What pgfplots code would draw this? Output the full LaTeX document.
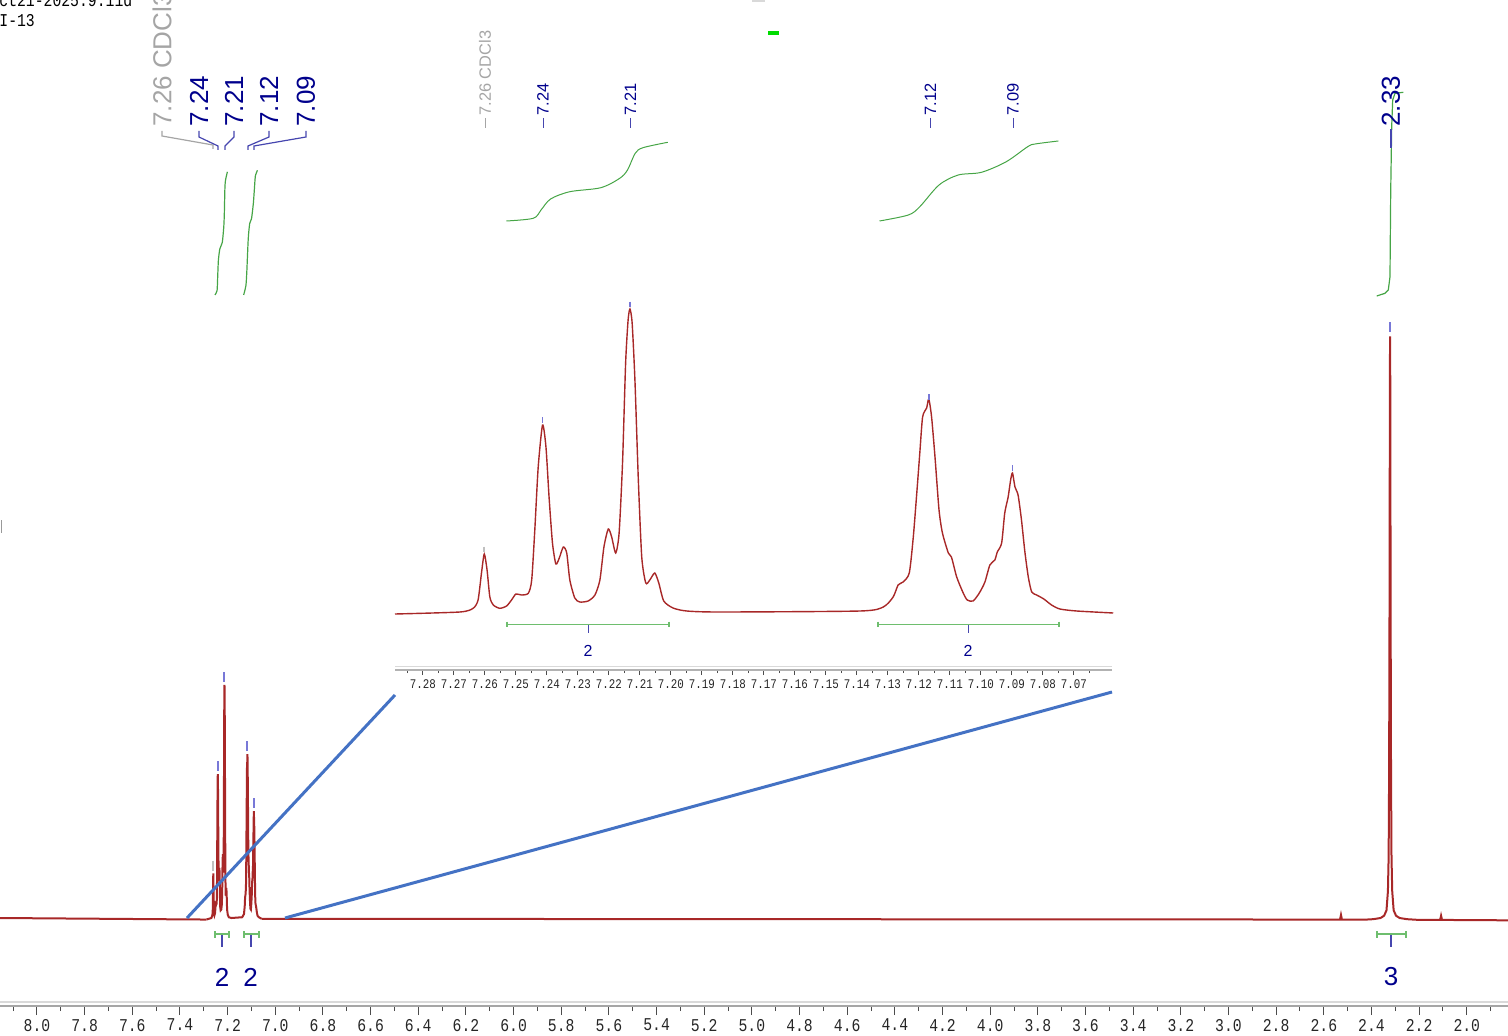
\documentclass[border=0pt]{standalone}
\usepackage{pgfplots}
\pgfplotsset{compat=1.18}
\usepackage{pgfplotstable}
\usepackage{fontspec}
\setmainfont{Liberation Sans}
\newfontfamily\tickfont[FakeStretch=0.82]{Liberation Mono}
\definecolor{specred}{RGB}{168,40,40}
\definecolor{navy}{RGB}{0,0,140}
\definecolor{leadc}{RGB}{70,70,175}
\definecolor{cdgrey}{RGB}{165,165,165}
\definecolor{intgreen}{RGB}{70,165,70}
\definecolor{barsgreen}{RGB}{110,190,110}
\definecolor{zoomblue}{RGB}{68,114,196}
\definecolor{pickc}{RGB}{120,120,215}
\definecolor{brightgreen}{RGB}{0,220,0}

\pgfplotstableread{
ppm I
7.2890 -2
7.2681 0
7.2638 3.7
7.2622 12
7.2611 39
7.2602 58
7.2593 42
7.2584 15
7.2573 7
7.2552 3.7
7.2530 6
7.2514 12
7.2500 18
7.2482 17
7.2460 18.7
7.2449 32
7.2439 82
7.2428 145
7.2414 187
7.2403 165
7.2393 115
7.2382 69
7.2371 48
7.2360 54
7.2347 65
7.2336 59
7.2326 32
7.2310 14
7.2294 10
7.2267 11
7.2245 17
7.2229 32
7.2216 65
7.2202 83
7.2191 75
7.2178 59
7.2167 79
7.2156 149
7.2146 249
7.2138 292
7.2132 303
7.2125 289
7.2116 232
7.2105 132
7.2094 55
7.2081 29
7.2068 32
7.2052 39
7.2039 29
7.2023 11
7.1993 4
7.1949 1
7.1842 0
7.1390 1
7.1315 5
7.1283 15
7.1267 27
7.1251 30
7.1231 39
7.1218 75
7.1206 122
7.1197 159
7.1188 195
7.1175 204
7.1168 213
7.1159 195
7.1148 155
7.1135 102
7.1124 79
7.1105 59
7.1095 55
7.1078 35
7.1057 19
7.1044 12
7.1025 11
7.1005 19
7.0987 30
7.0971 47
7.0955 52
7.0947 60
7.0933 69
7.0923 99
7.0912 115
7.0904 132
7.0898 139
7.0890 125
7.0880 117
7.0869 92
7.0858 60
7.0847 35
7.0836 20
7.0820 17
7.0797 13
7.0772 7
7.0745 3
7.0691 1
7.0573 -1
}\arom

\begin{document}
\begin{tikzpicture}
% ---------------- main spectrum ----------------
\begin{axis}[
  at={(0pt,0pt)}, anchor=south west,
  scale only axis, width=754pt, height=503pt,
  xmin=1.8271, xmax=8.1553, x dir=reverse,
  ymin=-114.4, ymax=1193.4,
  clip=false,
  axis x line*=bottom, axis y line=none, ytick=\empty,
  x axis line style={-, draw=black!35, line width=0.6pt},
  scaled x ticks=false,
  xtick={2,2.2,2.4,2.6,2.8,3,3.2,3.4,3.6,3.8,4,4.2,4.4,4.6,4.8,5,5.2,5.4,5.6,5.8,6,6.2,6.4,6.6,6.8,7,7.2,7.4,7.6,7.8,8},
  minor xtick={1.9,2.1,2.3,2.5,2.7,2.9,3.1,3.3,3.5,3.7,3.9,4.1,4.3,4.5,4.7,4.9,5.1,5.3,5.5,5.7,5.9,6.1,6.3,6.5,6.7,6.9,7.1,7.3,7.5,7.7,7.9,8.1},
  tick align=outside, major tick length=4.5pt, minor tick length=2.5pt,
  every tick/.style={draw=black!70, line width=0.5pt},
  xticklabel style={font=\tickfont\fontsize{9}{9}\selectfont, text=black!85, yshift=1.5pt,
    /pgf/number format/.cd, fixed, fixed zerofill, precision=1, assume math mode=true},
]
\addplot[specred, line width=1pt] coordinates {(8.1553,0) (7.2890,-2)};
\addplot[specred, line width=1pt] table[x=ppm, y=I] {\arom};
\addplot[specred, line width=1pt] coordinates {
 (7.0573,-1) (5.0,-1.5) (2.60,-2) (2.532,-2) (2.528,4) (2.524,-2) (2.42,-2)
 (2.392,-1.5) (2.362,0) (2.347,3) (2.337,10) (2.331,35) (2.328,80)
 (2.326,190) (2.3245,377) (2.3235,560) (2.3228,700) (2.322,756) (2.3212,700)
 (2.3205,560) (2.3195,377) (2.318,190) (2.316,80) (2.313,35) (2.307,10)
 (2.297,3) (2.282,0) (2.252,-1.5) (2.20,-2.5) (2.112,-2.5) (2.108,3)
 (2.104,-2.5) (1.8271,-3)};
% integral curves
\addplot[intgreen, line width=0.6pt, smooth, tension=0.4] coordinates {
 (7.2531,810) (7.2444,815.5) (7.2419,832) (7.2388,855) (7.2326,870) (7.2226,878)
 (7.2165,897) (7.2140,914) (7.2115,948) (7.2090,959) (7.2010,970)};
\addplot[intgreen, line width=0.6pt, smooth, tension=0.4] coordinates {
 (7.1327,810) (7.1234,822) (7.1197,839) (7.1135,883) (7.1073,903) (7.0998,909)
 (7.0918,930) (7.0849,960.5) (7.0825,966) (7.0750,972)};
\addplot[intgreen, line width=0.6pt] coordinates {
 (2.3781,808.6) (2.3433,812.1) (2.3294,816.4) (2.3223,833.7) (2.3194,942.5)
 (2.3152,1028.7) (2.3110,1063.4) (2.3013,1072.1) (2.2665,1073.4)};
% peak picks
\addplot[only marks, mark=|, mark size=2.5pt, pickc, mark options={line width=1pt}]
 coordinates {(7.2414,197) (7.2132,313) (7.1168,223) (7.0898,149) (2.322,768)};
\addplot[only marks, mark=|, mark size=2.5pt, cdgrey!70, mark options={line width=1pt}]
 coordinates {(7.2602,68)};
\end{axis}

% ---------------- zoom lines ----------------
\begin{scope}[x=0.5pt, y=-0.5pt, shift={(0pt,503pt)}]
\draw[zoomblue, line width=1.5pt] (187,918) -- (395,695);
\draw[zoomblue, line width=1.5pt] (285,918) -- (1112,692);
\end{scope}

% ---------------- inset ----------------
\begin{axis}[
  at={(197.5pt,168pt)}, anchor=south west,
  scale only axis, width=358.5pt, height=195pt,
  xmin=7.0577, xmax=7.2890, x dir=reverse,
  ymin=-58, ymax=332,
  clip=false,
  axis x line*=bottom, axis y line=none, ytick=\empty,
  x axis line style={-, draw=black!30, line width=0.6pt},
  scaled x ticks=false,
  xtick={7.07,7.08,7.09,7.10,7.11,7.12,7.13,7.14,7.15,7.16,7.17,7.18,7.19,7.20,7.21,7.22,7.23,7.24,7.25,7.26,7.27,7.28},
  minor xtick={7.065,7.075,7.085,7.095,7.105,7.115,7.125,7.135,7.145,7.155,7.165,7.175,7.185,7.195,7.205,7.215,7.225,7.235,7.245,7.255,7.265,7.275,7.285},
  tick align=outside, major tick length=2.5pt, minor tick length=1.5pt,
  every tick/.style={draw=black!70, line width=0.4pt},
  xticklabel style={font=\tickfont\fontsize{6.6}{6.6}\selectfont, text=black!85, yshift=1pt,
    /pgf/number format/.cd, fixed, fixed zerofill, precision=2, assume math mode=true},
]
\addplot[specred, line width=0.7pt, smooth, tension=0.4] table[x=ppm, y=I] {\arom};
\addplot[intgreen, line width=0.5pt, smooth, tension=0.5] coordinates {
 (7.2531,391) (7.2444,393.7) (7.2419,402) (7.2388,413) (7.2326,420.3) (7.2226,424.3)
 (7.2165,433.7) (7.2140,442) (7.2115,458.7) (7.2090,464.3) (7.2010,469.7)};
\addplot[intgreen, line width=0.5pt, smooth, tension=0.5] coordinates {
 (7.1327,391) (7.1234,397) (7.1197,405.3) (7.1135,427) (7.1073,437) (7.0998,439.7)
 (7.0918,450.3) (7.0849,465.3) (7.0825,468) (7.0750,471)};
\addplot[only marks, mark=|, mark size=1.4pt, pickc, mark options={line width=0.8pt}]
 coordinates {(7.2414,192) (7.2132,307.5) (7.1168,215) (7.0898,144)};
\addplot[only marks, mark=|, mark size=1.4pt, cdgrey!70, mark options={line width=0.8pt}]
 coordinates {(7.2602,62.5)};
\end{axis}

% ---------------- annotations (pixel frame) ----------------
\begin{scope}[x=0.5pt, y=-0.5pt, shift={(0pt,503pt)}]
% header text
\node[anchor=base west, inner sep=0pt, font=\tickfont\fontsize{9}{9}\selectfont] at (-1,7) {ct21-2025.9.11d};
\node[anchor=base west, inner sep=0pt, font=\tickfont\fontsize{9}{9}\selectfont] at (-1,27) {I-13};
\fill[brightgreen] (768,31.5) rectangle (779,35);
\fill[black!15] (752,0) rectangle (765,2);
\draw[black!40, line width=0.5pt] (1,520) -- (1,533);
% main peak labels
\node[rotate=90, anchor=west, inner sep=0pt, text=cdgrey, font=\fontsize{13}{13}\selectfont] at (162,127) {7.26 CDCl3};
\node[rotate=90, anchor=west, inner sep=0pt, text=navy, font=\fontsize{13}{13}\selectfont] at (199,127) {7.24};
\node[rotate=90, anchor=west, inner sep=0pt, text=navy, font=\fontsize{13}{13}\selectfont] at (234,127) {7.21};
\node[rotate=90, anchor=west, inner sep=0pt, text=navy, font=\fontsize{13}{13}\selectfont] at (269,127) {7.12};
\node[rotate=90, anchor=west, inner sep=0pt, text=navy, font=\fontsize{13}{13}\selectfont] at (306,127) {7.09};
\node[rotate=90, anchor=west, inner sep=0pt, text=navy, font=\fontsize{13}{13}\selectfont] at (1391,127) {2.33};
\draw[cdgrey, line width=0.6pt] (162,131) -- (162,136) -- (213,145) -- (213,149);
\draw[leadc, line width=0.6pt] (199,131) -- (199,137) -- (218,146) -- (218,150);
\draw[leadc, line width=0.6pt] (234,131) -- (234,137) -- (225,146) -- (225,150);
\draw[leadc, line width=0.6pt] (269,131) -- (269,137) -- (248,146) -- (248,150);
\draw[leadc, line width=0.6pt] (306,131) -- (306,137) -- (254,146) -- (254,150);
\draw[leadc, line width=0.6pt] (1391,129) -- (1391,148);
% main integration bars
\begin{scope}[barsgreen, line width=1pt]
\draw (215,934.3) -- (229,934.3); \draw (215,931) -- (215,938); \draw (229,931) -- (229,938);
\draw (244,934.3) -- (258.5,934.3); \draw (244,931) -- (244,938); \draw (258.5,931) -- (258.5,938);
\draw (1377,934.3) -- (1406,934.3); \draw (1377,931) -- (1377,938); \draw (1406,931) -- (1406,938);
\end{scope}
\draw[leadc, line width=0.6pt] (222,935) -- (222,946.5);
\draw[leadc, line width=0.6pt] (251,935) -- (251,946.5);
\draw[leadc, line width=0.6pt] (1391,935) -- (1391,946.5);
\node[text=navy, font=\fontsize{13}{13}\selectfont] at (222,977) {2};
\node[text=navy, font=\fontsize{13}{13}\selectfont] at (250.5,977) {2};
\node[text=navy, font=\fontsize{13}{13}\selectfont] at (1391,977) {3};
% inset labels
\node[rotate=90, anchor=west, inner sep=0pt, text=cdgrey, font=\fontsize{8.2}{8.2}\selectfont] at (485,116) {7.26 CDCl3};
\node[rotate=90, anchor=west, inner sep=0pt, text=navy, font=\fontsize{8.2}{8.2}\selectfont] at (543,116) {7.24};
\node[rotate=90, anchor=west, inner sep=0pt, text=navy, font=\fontsize{8.2}{8.2}\selectfont] at (630.5,116) {7.21};
\node[rotate=90, anchor=west, inner sep=0pt, text=navy, font=\fontsize{8.2}{8.2}\selectfont] at (930.5,116) {7.12};
\node[rotate=90, anchor=west, inner sep=0pt, text=navy, font=\fontsize{8.2}{8.2}\selectfont] at (1013,116) {7.09};
\draw[cdgrey, line width=0.5pt] (485,118) -- (485,128);
\draw[leadc, line width=0.5pt] (543,118) -- (543,128);
\draw[leadc, line width=0.5pt] (630.5,118) -- (630.5,128);
\draw[leadc, line width=0.5pt] (930.5,118) -- (930.5,128);
\draw[leadc, line width=0.5pt] (1013,118) -- (1013,128);
% inset integration bars
\begin{scope}[barsgreen, line width=0.8pt]
\draw (507,624.3) -- (669,624.3); \draw (507,621.5) -- (507,627); \draw (669,621.5) -- (669,627);
\draw (878,624.3) -- (1059,624.3); \draw (878,621.5) -- (878,627); \draw (1059,621.5) -- (1059,627);
\end{scope}
\draw[leadc, line width=0.5pt] (588,625) -- (588,632.5);
\draw[leadc, line width=0.5pt] (968,625) -- (968,632.5);
\node[text=navy, font=\fontsize{8}{8}\selectfont] at (588,651) {2};
\node[text=navy, font=\fontsize{8}{8}\selectfont] at (968,651) {2};
% second thin grey axis lines
\draw[black!15, line width=0.6pt] (395,666.5) -- (1112,666.5);
\draw[black!15, line width=0.6pt] (0,1002) -- (1508,1002);
\end{scope}

\pgfresetboundingbox
\path[use as bounding box] (0pt,-14.5pt) rectangle (754pt,503pt);
\end{tikzpicture}
\end{document}
